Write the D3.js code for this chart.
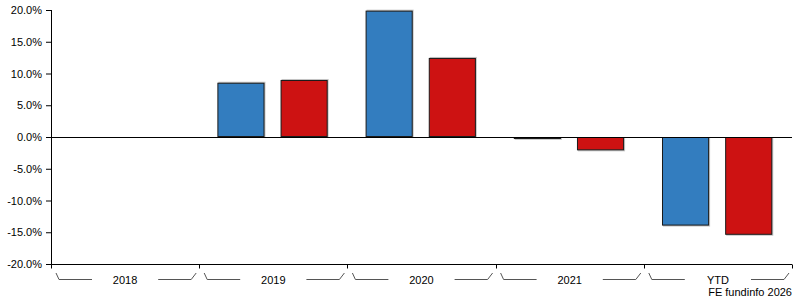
<!DOCTYPE html>
<html>
<head>
<meta charset="utf-8">
<script src="https://cdn.jsdelivr.net/npm/d3@7"></script>
<style>
  body { margin: 0; background: #fff; }
  text { font-family: "Liberation Sans", Arial, sans-serif; font-size: 11px; fill: #000; }
</style>
</head>
<body>
<div id="graph"></div>
<script>
let width = 795, height = 300;

// Data
let years = ["2018", "2019", "2020", "2021", "YTD"];
let series = ["fund", "sector"];
let fundValues = [null, 8.55, 19.9, -0.3, -13.95];
let sectorValues = [null, 8.98, 12.45, -2.1, -15.4];
let yTicks = [-20, -15, -10, -5, 0, 5, 10, 15, 20];
let colors = {"fund": "#337dbf", "sector": "#cd1212"};

let svg = d3.select("#graph").append("svg")
    .attr("width", width)
    .attr("height", height);

let margin = {left: 51, right: 3, top: 10, bottom: 36};

let x = d3.scaleBand()
    .domain(years)
    .range([margin.left, width - margin.right])
    .padding(0);

let xInner = d3.scaleBand()
    .domain(series)
    .range([0, x.bandwidth()])
    .paddingInner(16 / 63)
    .paddingOuter(0.3)
    .align(0.48);

let y = d3.scaleLinear()
    .domain([-20, 20])
    .range([height - margin.bottom, margin.top]);

let rows = [];
years.forEach((yr, i) => {
  if (fundValues[i] != null) rows.push({year: yr, key: "fund", value: fundValues[i]});
  if (sectorValues[i] != null) rows.push({year: yr, key: "sector", value: sectorValues[i]});
});

// Y axis
let yAxis = svg.append("g")
    .attr("transform", "translate(" + margin.left + ",0)")
    .call(d3.axisLeft(y).tickValues(yTicks).tickSize(5).tickPadding(4)
      .tickFormat(d => d.toFixed(1) + "%"));
yAxis.select(".domain").attr("stroke", "#000").attr("d", "M0.5," + y(20) + "V" + (y(-20) + 4));
yAxis.selectAll(".tick line").attr("stroke", "#000");
yAxis.selectAll("text").style("font-family", "Liberation Sans, Arial, sans-serif").style("font-size", "11px");

// Bars with a light shadow
let bars = svg.append("g");
bars.selectAll("rect.shadow")
  .data(rows)
  .enter().append("rect")
  .attr("class", "shadow")
  .attr("x", d => x(d.year) + xInner(d.key) + 1)
  .attr("y", d => d.value >= 0 ? y(d.value) - 1 : y(0))
  .attr("width", xInner.bandwidth())
  .attr("height", d => Math.abs(y(d.value) - y(0)) + 1)
  .attr("fill", "#c8c8c8");

bars.selectAll("rect.bar")
  .data(rows)
  .enter().append("rect")
  .attr("class", "bar")
  .attr("x", d => x(d.year) + xInner(d.key) + 0.5)
  .attr("y", d => Math.min(y(d.value), y(0)) + 0.5)
  .attr("width", xInner.bandwidth() - 1)
  .attr("height", d => Math.max(Math.abs(y(d.value) - y(0)) - 1, 1))
  .attr("fill", d => colors[d.key])
  .attr("stroke", "#1a1a1a")
  .attr("stroke-width", 1);

// Zero line
svg.append("line")
  .attr("x1", margin.left).attr("x2", width - margin.right)
  .attr("y1", Math.round(y(0)) + 0.5).attr("y2", Math.round(y(0)) + 0.5)
  .attr("stroke", "#000");

// X axis
let xAxis = svg.append("g")
    .attr("transform", "translate(0," + (Math.round(y(-20)) + 0.5) + ")");
xAxis.append("line")
  .attr("x1", margin.left).attr("x2", width - margin.right)
  .attr("stroke", "#000");
let seps = years.map(d => x(d)).concat([x(years[years.length - 1]) + x.bandwidth()]);
xAxis.selectAll("line.sep")
  .data(seps)
  .enter().append("line")
  .attr("class", "sep")
  .attr("x1", d => Math.round(d) + 0.5).attr("x2", d => Math.round(d) + 0.5)
  .attr("y1", 0).attr("y2", 4)
  .attr("stroke", "#000");

// Category brackets
let brackets = svg.append("g");
years.forEach(yr => {
  let x0 = x(yr), x1 = x(yr) + x.bandwidth(), cx = x0 + x.bandwidth() / 2;
  let g = brackets.append("g");
  g.append("path")
    .attr("d", "M" + (x0 + 5) + ",273L" + (x0 + 8) + ",279.5H" + (x0 + 41))
    .attr("fill", "none").attr("stroke", "#555");
  g.append("path")
    .attr("d", "M" + (x1 - 41) + ",279.5H" + (x1 - 8) + "L" + (x1 - 3) + ",273")
    .attr("fill", "none").attr("stroke", "#555");
  g.append("text")
    .attr("x", cx).attr("y", 284)
    .attr("text-anchor", "middle")
    .text(yr);
});

// Credit
svg.append("text")
  .attr("x", width - 3).attr("y", 296)
  .attr("text-anchor", "end")
  .text("FE fundinfo 2026");
</script>
</body>
</html>
